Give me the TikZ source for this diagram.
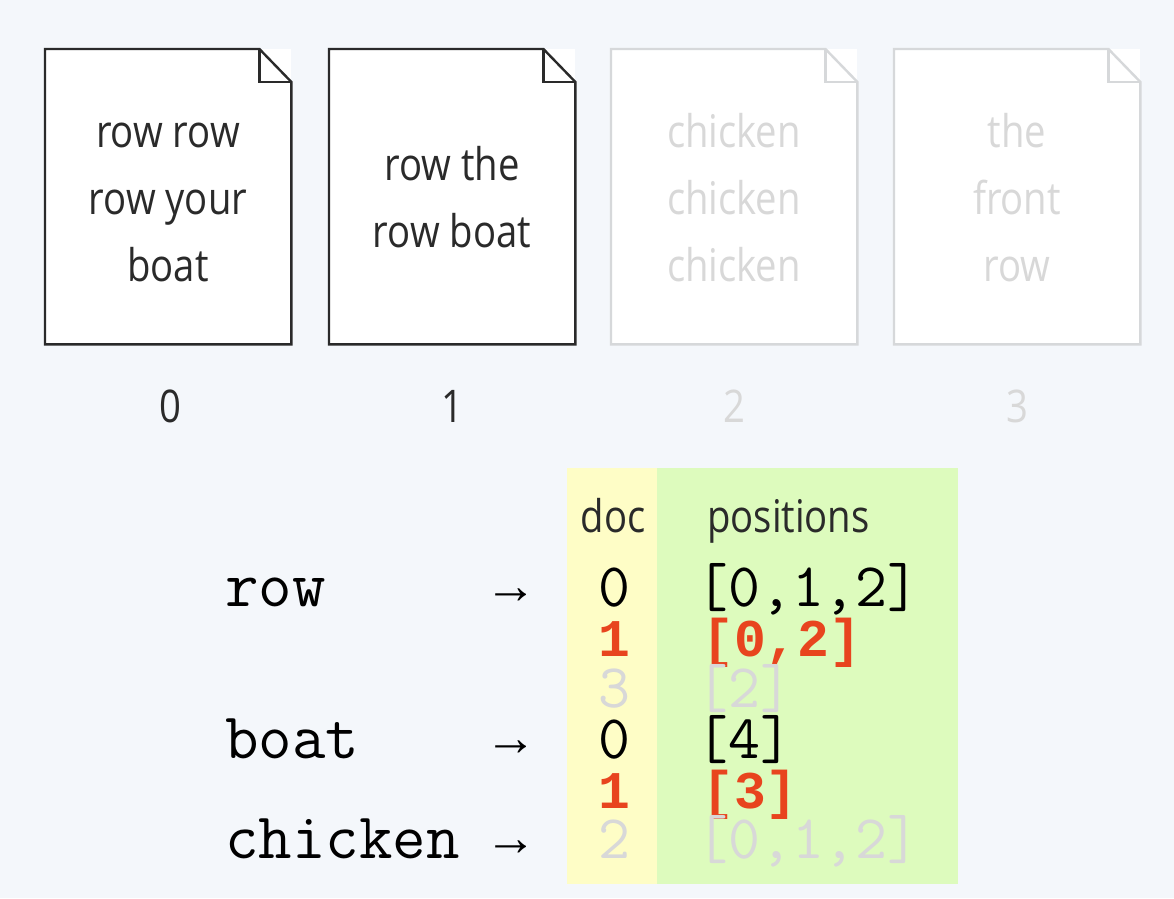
\documentclass[tikz,border=0pt]{standalone}
\usepackage{fontspec}
\newfontfamily\docfont[FakeStretch=0.85]{Open Sans}
\newfontfamily\monob{Liberation Mono}
\newfontfamily\arrowfont{Liberation Mono}
\definecolor{bg}{HTML}{F4F7FB}
\definecolor{ink}{HTML}{2A2A2A}
\definecolor{faint}{HTML}{D6D8DA}
\definecolor{fainttext}{HTML}{D8D8D8}
\definecolor{hot}{HTML}{E8441E}
\definecolor{ylw}{HTML}{FEFDC6}
\definecolor{grn}{HTML}{DDFBBD}
\tikzset{
  doctext/.style={font=\docfont\fontsize{45}{67}\selectfont, align=center, anchor=base, inner sep=0pt},
  termtext/.style={font=\ttfamily\fontsize{65}{65}\selectfont, anchor=base west, inner sep=0pt, text=black},
  monotext/.style={font=\ttfamily\fontsize{62}{62}\selectfont, anchor=base west, inner sep=0pt},
  monobold/.style={font=\monob\bfseries\fontsize{53}{53}\selectfont, anchor=base west, inner sep=0pt, text=hot},
  arrowtext/.style={font=\arrowfont\fontsize{52}{52}\selectfont, anchor=base west, inner sep=0pt, text=black},
  pagebox/.style={minimum width=246pt, minimum height=295pt, inner sep=0pt, fill=white},
}
\newcommand{\docoutline}[2]{%
  \draw[#2, line width=2.4pt, line join=miter, fill=white]
    (#1.north west) -- ([xshift=-32pt]#1.north east) -- ([yshift=-33pt]#1.north east)
    -- (#1.south east) -- (#1.south west) -- cycle;
  \draw[#2, line width=2.4pt, line join=miter]
    ([xshift=-32pt]#1.north east) -- ([xshift=-32pt,yshift=-33pt]#1.north east) -- ([yshift=-33pt]#1.north east);
}
\begin{document}
\begin{tikzpicture}[x=1pt,y=-1pt]
\fill[bg] (0,0) rectangle (1174,898);
\useasboundingbox (0,0) rectangle (1174,898);

% documents
\node[pagebox, anchor=north west] (d0) at (45,49) {};
\node[pagebox, anchor=north west] (d1) at (329,49) {};
\node[pagebox, anchor=north west] (d2) at (611,49) {};
\node[pagebox, anchor=north west] (d3) at (894,49) {};
\docoutline{d0}{ink}
\docoutline{d1}{ink}
\docoutline{d2}{faint}
\docoutline{d3}{faint}

% multi-line nodes: base anchor = baseline of last line
\node[doctext, text=ink] (t0) at (168,281) {row row\\row your\\boat};
\node[doctext, text=ink] (t1) at (452,247) {row the\\row boat};
\node[doctext, text=fainttext] (t2) at (734,281) {chicken\\chicken\\chicken};
\node[doctext, text=fainttext] (t3) at (1017,281) {the\\front\\row};

\node[doctext, text=ink] (n0) at (170,422) {0};
\node[doctext, text=ink] (n1) at (452,422) {1};
\node[doctext, text=fainttext] (n2) at (734,422) {2};
\node[doctext, text=fainttext] (n3) at (1017,422) {3};

% table
\fill[ylw] (567,468) rectangle (657,884);
\fill[grn] (657,468) rectangle (958,884);
\node[doctext, text=ink] (hdoc) at (613,532) {doc};
\node[doctext, text=ink, anchor=base west] (hpos) at (707,532) {positions};

% terms
\node[termtext] (wrow) at (225,606) {row};
\node[termtext] (wboat) at (225,758) {boat};
\node[termtext] (wchk) at (225,858) {chicken};
\node[arrowtext] (arow) at (495,603) {→};
\node[arrowtext] (aboat) at (495,755) {→};
\node[arrowtext] (achk) at (495,855) {→};

% doc ids
\node[monotext, text=black, anchor=base] (r1d) at (614,606) {0};
\node[monobold, anchor=base] (r2d) at (614,656) {1};
\node[monotext, text=fainttext, anchor=base] (r3d) at (614,707) {3};
\node[monotext, text=black, anchor=base] (r4d) at (614,758) {0};
\node[monobold, anchor=base] (r5d) at (614,808) {1};
\node[monotext, text=fainttext, anchor=base] (r6d) at (614,858) {2};

% positions
\node[monotext, text=black] (r1p) at (696,606) {[0,1,2]};
\node[monobold] (r2p) at (702,656) {[0,2]};
\node[monotext, text=fainttext] (r3p) at (696,707) {[2]};
\node[monotext, text=black] (r4p) at (696,758) {[4]};
\node[monobold] (r5p) at (702,808) {[3]};
\node[monotext, text=fainttext] (r6p) at (696,858) {[0,1,2]};
\end{tikzpicture}
\end{document}
